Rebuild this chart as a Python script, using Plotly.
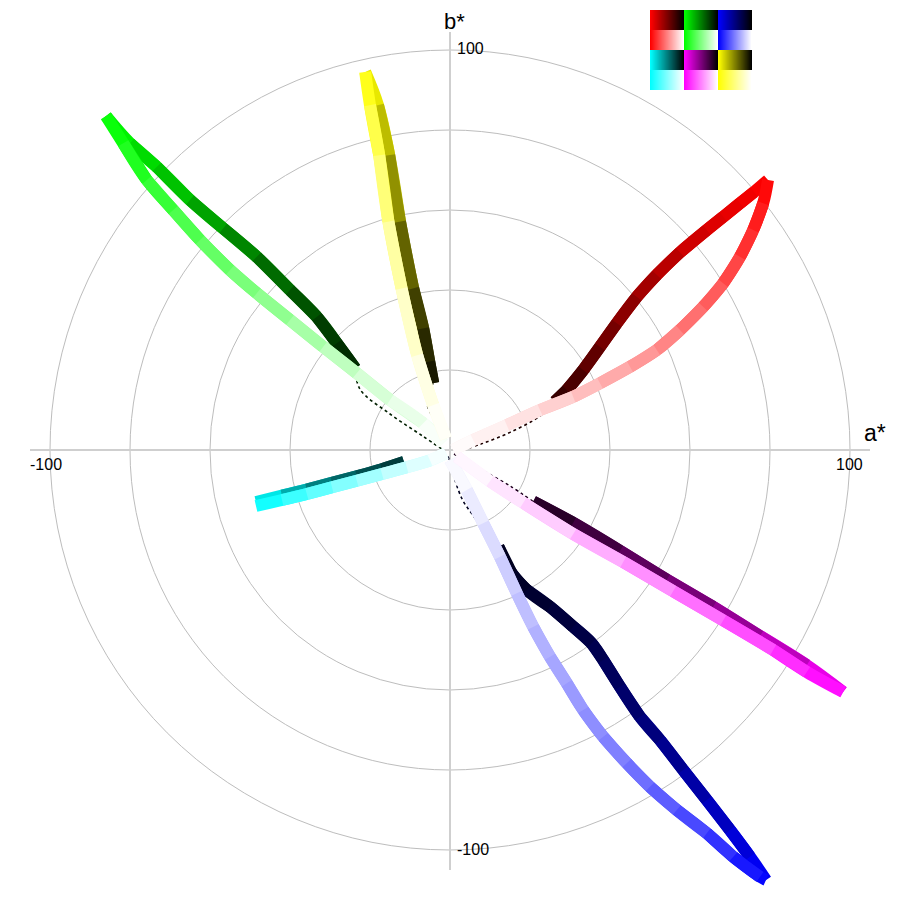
import plotly.graph_objects as go

# ---------------- data (a*, b*, fraction of full colour) ----------------
RED = (255, 0, 0)
GREEN = (0, 255, 0)
BLUE = (0, 0, 255)
CYAN = (0, 255, 255)
MAGENTA = (255, 0, 255)
YELLOW = (255, 255, 0)

RED_DARK = [(79.5, 67.5, 1.0), (76.0, 64.5, 0.96), (72.5, 61.7, 0.93), (68.3, 58.3, 0.89),
            (64.2, 55.0, 0.85), (57.5, 49.4, 0.77), (51.7, 43.8, 0.68), (46.7, 38.3, 0.6),
            (41.7, 31.7, 0.5), (37.5, 25.8, 0.42), (33.3, 20.0, 0.33), (29.2, 15.0, 0.25),
            (26.2, 12.1, 0.18)]
RED_LIGHT = [(79.5, 67.5, 1.0), (78.3, 61.7, 0.93), (75.8, 55.0, 0.85), (72.5, 48.3, 0.77),
             (68.3, 41.7, 0.68), (63.3, 35.8, 0.6), (57.5, 30.0, 0.52), (51.7, 25.0, 0.44),
             (45.0, 20.8, 0.37), (37.5, 16.7, 0.3), (30.8, 13.3, 0.22), (22.5, 10.0, 0.15),
             (14.2, 6.2, 0.08), (5.8, 2.5, 0.03), (0.8, 0.0, 0.0)]
RED_THIN = [(26.2, 12.1), (22.5, 8.5), (15.0, 4.4), (8.0, 1.6), (2.0, -0.4)]

GREEN_DARK = [(-86.0, 83.5, 1.0), (-80.0, 76.7, 0.9), (-73.3, 70.8, 0.82), (-65.0, 62.5, 0.7),
              (-56.7, 55.4, 0.58), (-48.3, 48.3, 0.47), (-40.0, 40.0, 0.37), (-33.3, 33.3, 0.28),
              (-28.3, 26.7, 0.2), (-23.7, 20.4, 0.16)]
GREEN_LIGHT = [(-86.0, 83.5, 1.0), (-81.7, 76.7, 0.92), (-75.8, 67.5, 0.83), (-69.2, 60.0, 0.74),
               (-62.5, 52.5, 0.65), (-55.0, 45.0, 0.56), (-48.3, 39.2, 0.48), (-40.0, 32.5, 0.39),
               (-31.7, 25.8, 0.3), (-23.3, 19.2, 0.2), (-15.0, 12.5, 0.12), (-6.7, 6.7, 0.05),
               (-1.7, 1.7, 0.0)]
GREEN_THIN = [(-23.7, 20.4), (-22.5, 15.2), (-15.0, 9.0), (-7.0, 3.6), (-2.0, 0.2)]

YELLOW_DARK = [(-21.2, 94.5, 1.0), (-18.0, 86.2, 0.82), (-15.2, 73.7, 0.66),
               (-12.5, 57.1, 0.48), (-9.2, 40.4, 0.3), (-6.7, 30.4, 0.2), (-5.2, 22.1, 0.12),
               (-4.2, 16.7, 0.07)]
YELLOW_LIGHT = [(-21.2, 94.5, 1.0), (-20.0, 86.2, 0.8), (-17.7, 73.7, 0.62), (-15.4, 57.1, 0.44),
                (-12.1, 40.4, 0.28), (-8.2, 23.7, 0.15), (-4.2, 11.2, 0.06), (-1.0, 2.9, 0.0)]
YELLOW_THIN = [(-4.2, 16.7), (-5.8, 12.1), (-3.6, 6.8), (-1.0, 1.8)]

BLUE_DARK = [(79.0, -107.5, 1.0), (75.0, -101.7, 0.9), (70.0, -95.0, 0.8), (64.2, -87.5, 0.7),
             (58.3, -80.0, 0.6), (52.5, -72.5, 0.52), (47.5, -66.7, 0.45), (42.5, -59.2, 0.39),
             (38.3, -52.5, 0.33), (35.4, -48.3, 0.29), (30.8, -44.2, 0.25), (25.0, -39.2, 0.21),
             (19.2, -35.0, 0.17), (15.4, -30.8, 0.14), (12.1, -24.2, 0.11)]
BLUE_LIGHT = [(79.0, -107.5, 1.0), (77.5, -106.7, 0.96), (70.8, -101.7, 0.85), (64.2, -95.8, 0.76),
              (56.7, -90.0, 0.67), (50.0, -84.2, 0.6), (44.2, -78.3, 0.53), (38.3, -71.7, 0.47),
              (33.3, -65.0, 0.42), (29.2, -58.3, 0.37), (25.0, -51.7, 0.33), (20.8, -44.2, 0.28),
              (16.7, -35.8, 0.22), (12.5, -26.7, 0.17), (8.3, -18.3, 0.11), (4.2, -10.0, 0.05),
              (0.0, -2.5, 0.0)]
BLUE_THIN = [(12.1, -24.2), (9.0, -20.5), (5.5, -16.0), (2.9, -12.0), (-0.5, -1.5)]

MAGENTA_DARK = [(98.3, -60.5, 1.0), (89.2, -53.8, 0.82), (77.5, -46.5, 0.66), (65.8, -39.2, 0.52),
                (54.2, -32.4, 0.42), (42.5, -25.2, 0.31), (30.8, -18.2, 0.19), (20.8, -12.9, 0.12)]
MAGENTA_LIGHT = [(98.3, -60.5, 1.0), (89.2, -55.5, 0.88), (80.8, -50.0, 0.76), (68.3, -42.6, 0.63),
                 (55.8, -35.3, 0.5), (43.3, -28.0, 0.38), (30.8, -21.0, 0.26), (18.3, -13.2, 0.14),
                 (10.0, -7.8, 0.07), (1.7, -1.7, 0.0)]
MAGENTA_THIN = [(20.8, -12.9), (15.0, -9.0), (8.0, -5.0), (1.0, -1.0)]

CYAN_DARK = [(-48.5, -13.0, 1.0), (-42.0, -11.4, 0.8), (-35.8, -9.9, 0.55), (-29.5, -8.2, 0.45),
             (-23.3, -6.6, 0.35), (-17.0, -4.8, 0.27), (-11.5, -3.0, 0.2)]
CYAN_LIGHT = [(-48.5, -14.0, 1.0), (-42.0, -12.5, 0.85), (-35.8, -11.0, 0.68), (-29.5, -9.3, 0.55),
              (-23.3, -7.7, 0.42), (-17.0, -6.0, 0.3), (-10.8, -4.3, 0.18), (-5.0, -2.6, 0.08),
              (-1.0, -0.8, 0.0)]

GRID_RADII = [20, 40, 60, 80, 100]
TICK_LABELS = [("100", 99.75, -3.6, "center"), ("-100", -101.0, -3.6, "center"),
               ("100", 1.2, 100.4, "left"), ("-100", 1.2, -99.8, "left")]
A_TITLE = ("a*", 106.3, 4.3)
B_TITLE = ("b*", 1.0)

LEGEND_ROWS = [[RED, GREEN, BLUE], [CYAN, MAGENTA, YELLOW]]

# ---------------- layout geometry ----------------
# the page body has an 8px margin, so the figure is drawn 8px in from the window edge
PAGE_OFF = 8
FIG = 884
PX_PER_UNIT = 4.0
CENTER = 450 - PAGE_OFF          # window pixel 450 is the origin
HALF = CENTER / PX_PER_UNIT
BAND_W = 12


def dark_col(c, t):
    return "rgb(%d,%d,%d)" % tuple(round(v * t) for v in c)


def light_col(c, t):
    return "rgb(%d,%d,%d)" % tuple(round(255 - (255 - v) * t) for v in c)


fig = go.Figure()


def band(points, c, colfn, width=BAND_W):
    n = len(points)
    for i in range(n - 1):
        seg = points[i:i + 3]
        t = (points[i][2] + points[i + 1][2]) / 2
        fig.add_trace(go.Scatter(
            x=[p[0] for p in seg], y=[p[1] for p in seg], mode="lines",
            line=dict(color=colfn(c, t), width=width, shape="spline", smoothing=1.0),
            hoverinfo="skip", showlegend=False))


def thin(points, c):
    fig.add_trace(go.Scatter(
        x=[p[0] for p in points], y=[p[1] for p in points], mode="lines",
        line=dict(color=dark_col(c, 0.12), width=1.6, dash="dot", shape="spline"),
        hoverinfo="skip", showlegend=False))


for pts, c in [(RED_DARK, RED), (GREEN_DARK, GREEN), (YELLOW_DARK, YELLOW),
               (BLUE_DARK, BLUE), (MAGENTA_DARK, MAGENTA), (CYAN_DARK, CYAN)]:
    band(pts, c, dark_col)
for pts, c in [(RED_THIN, RED), (GREEN_THIN, GREEN), (YELLOW_THIN, YELLOW),
               (BLUE_THIN, BLUE), (MAGENTA_THIN, MAGENTA)]:
    thin(pts, c)
for pts, c in [(RED_LIGHT, RED), (GREEN_LIGHT, GREEN), (YELLOW_LIGHT, YELLOW),
               (BLUE_LIGHT, BLUE), (MAGENTA_LIGHT, MAGENTA), (CYAN_LIGHT, CYAN)]:
    band(pts, c, light_col)

# legend image: each swatch 34 px wide, dark ramp row + light ramp row, 20 px each
SW_W, SW_H = 34, 20
img = []
for row in LEGEND_ROWS:
    for ramp in ("dark", "light"):
        line = []
        for c in row:
            for k in range(SW_W):
                t = 1 - k / (SW_W - 1)
                if ramp == "dark":
                    line.append([round(v * t) for v in c])
                else:
                    line.append([round(255 - (255 - v) * t) for v in c])
        for _ in range(SW_H):
            img.append(line)
fig.add_trace(go.Image(z=img, xaxis="x2", yaxis="y2", hoverinfo="skip"))

LEG_X0, LEG_Y0 = 650 - PAGE_OFF, 10 - PAGE_OFF
LEG_W, LEG_H = 3 * SW_W, 4 * SW_H

shapes = []
for r in GRID_RADII:
    shapes.append(dict(type="circle", xref="x", yref="y", x0=-r, y0=-r, x1=r, y1=r,
                       line=dict(color="#bdbdbd", width=1), layer="below"))
shapes.append(dict(type="line", xref="x", yref="y", x0=-105, y0=0, x1=105, y1=0,
                   line=dict(color="#cfcfcf", width=2), layer="below"))
shapes.append(dict(type="line", xref="x", yref="y", x0=0, y0=-105, x1=0, y1=104.5,
                   line=dict(color="#cfcfcf", width=2), layer="below"))

annotations = []
FONT = "Liberation Sans, Arial, sans-serif"
for txt, x, y, anchor in TICK_LABELS:
    annotations.append(dict(text=txt, x=x, y=y, xref="x", yref="y", showarrow=False,
                            xanchor=anchor, yanchor="middle",
                            font=dict(family=FONT, size=16, color="black")))
annotations.append(dict(text=A_TITLE[0], x=A_TITLE[1], y=A_TITLE[2], xref="x", yref="y",
                        showarrow=False, xanchor="center", yanchor="middle",
                        font=dict(family=FONT, size=23, color="black")))
annotations.append(dict(text=B_TITLE[0], x=B_TITLE[1], y=1, xref="x", yref="paper",
                        showarrow=False, xanchor="center", yanchor="top", borderpad=0,
                        font=dict(family=FONT, size=22, color="black")))

fig.update_layout(
    width=FIG, height=FIG,
    margin=dict(l=0, r=0, t=0, b=0),
    paper_bgcolor="white", plot_bgcolor="white",
    showlegend=False,
    xaxis=dict(range=[-HALF, (FIG - CENTER) / PX_PER_UNIT], visible=False,
               domain=[0, 1], fixedrange=True),
    yaxis=dict(range=[-(FIG - CENTER) / PX_PER_UNIT, HALF], visible=False,
               domain=[0, 1], fixedrange=True),
    xaxis2=dict(range=[-0.5, LEG_W - 0.5], visible=False,
                domain=[LEG_X0 / FIG, (LEG_X0 + LEG_W) / FIG], anchor="y2", fixedrange=True),
    yaxis2=dict(range=[LEG_H - 0.5, -0.5], visible=False,
                domain=[1 - (LEG_Y0 + LEG_H) / FIG, 1 - LEG_Y0 / FIG], anchor="x2",
                fixedrange=True),
    shapes=shapes,
    annotations=annotations,
)

fig.write_html("out.html")
